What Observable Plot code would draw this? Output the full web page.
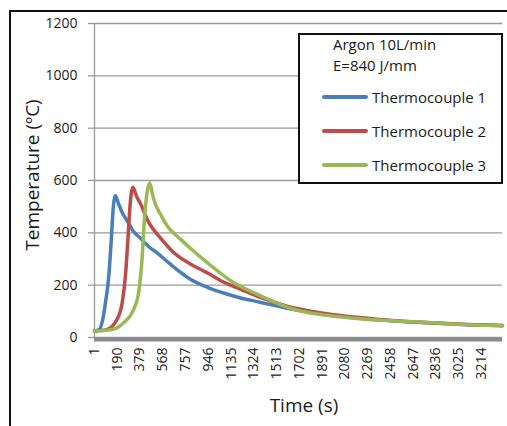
<!DOCTYPE html>
<html>
<head>
<meta charset="utf-8">
<script src="https://cdn.jsdelivr.net/npm/d3@7"></script>
<script src="https://cdn.jsdelivr.net/npm/@observablehq/plot@0.6"></script>
<style>
  html, body { margin: 0; padding: 0; background: #fff; }
  #wrap { position: relative; width: 507px; height: 426px; overflow: hidden; font-family: "Open Sans", sans-serif; color: #1a1a1a; }
  #frame { position: absolute; left: 9px; top: 10px; width: 600px; height: 500px; border-left: 2px solid #111; border-top: 2px solid #111; }
  #chart { position: absolute; left: 0; top: 0; }
  #legend { position: absolute; left: 298px; top: 33px; width: 205px; height: 151px; box-sizing: border-box; border: 2px solid #111; background: #fff; }
  .lg-title { position: absolute; left: 33px; font-size: 15px; line-height: 1; white-space: nowrap; }
  .lg-row { position: absolute; left: 22px; height: 20px; display: flex; align-items: center; white-space: nowrap; font-size: 15px; }
  .lg-swatch { width: 46px; height: 4px; border-radius: 2px; margin-right: 4px; }
  .ytitle { position: absolute; left: 32px; top: 175px; transform: translate(-50%, -50%) rotate(-90deg); font-size: 19px; white-space: nowrap; }
  .xtitle { position: absolute; left: 304px; top: 405px; transform: translate(-50%, -50%); font-size: 19px; white-space: nowrap; }
</style>
</head>
<body>
<div id="wrap">
  <div id="frame"></div>
  <div id="chart"></div>
  <div id="legend"></div>
  <div class="ytitle" id="ytitle"></div>
  <div class="xtitle" id="xtitle"></div>
</div>
<script>
// ---- data ----
const seriesNames = ["Thermocouple 1", "Thermocouple 2", "Thermocouple 3"];
const seriesColors = ["#4a7ebb", "#be4b48", "#98b954"];

const times1 = [1, 40, 70, 92, 120, 139, 156, 175, 200, 231, 280, 327, 382, 450, 521, 631, 797, 950, 1073, 1200, 1377, 1600, 1900, 2200, 2500, 2800, 3100, 3390];
const temps1 = [25, 30, 70, 133, 236, 363, 491, 542, 512, 478, 440, 404, 380, 348, 323, 280, 223, 190, 170, 153, 135, 112, 90, 74, 63, 55, 49, 45];

const times2 = [1, 100, 189, 231, 258, 277, 294, 319, 350, 382, 451, 550, 659, 800, 935, 1073, 1212, 1377, 1600, 1900, 2200, 2500, 2800, 3100, 3390];
const temps2 = [25, 30, 70, 133, 236, 363, 491, 574, 540, 512, 440, 380, 325, 280, 248, 212, 185, 153, 120, 93, 76, 64, 56, 50, 46];

const times3 = [1, 100, 180, 244, 327, 368, 396, 416, 438, 460, 482, 507, 550, 604, 714, 800, 935, 1156, 1377, 1654, 2013, 2289, 2600, 2842, 3118, 3390];
const temps3 = [25, 28, 35, 57, 108, 172, 300, 453, 555, 590, 548, 510, 470, 427, 376, 340, 287, 210, 160, 108, 80, 69, 61, 55, 49, 46];

const xTickLabels = [1, 190, 379, 568, 757, 946, 1135, 1324, 1513, 1702, 1891, 2080, 2269, 2458, 2647, 2836, 3025, 3214];
const yTickLabels = [0, 200, 400, 600, 800, 1000, 1200];

const legendTitle = ["Argon 10L/min", "E=840 J/mm"];
const xTitle = "Time (s)";
const yTitle = "Temperature (ºC)";

// ---- build table ----
const allTimes = [times1, times2, times3];
const allTemps = [temps1, temps2, temps3];
const data = seriesNames.flatMap((name, i) =>
  allTimes[i].map((t, j) => ({series: name, time: t, temp: allTemps[i][j]}))
);

const gridColor = "#9a9a9a";

const chart = Plot.plot({
  width: 507,
  height: 426,
  marginLeft: 94,
  marginRight: 5,
  marginTop: 23,
  marginBottom: 89,
  style: {fontFamily: "Open Sans", fontSize: "14px", color: "#1a1a1a", background: "transparent", overflow: "visible"},
  x: {domain: [1, 3390], label: null},
  y: {domain: [0, 1200], label: null},
  color: {domain: seriesNames, range: seriesColors},
  marks: [
    Plot.gridY(yTickLabels, {stroke: gridColor, strokeOpacity: 1, strokeWidth: 1.3}),
    Plot.axisY(yTickLabels, {tickSize: 6, tickPadding: 11, stroke: gridColor, strokeWidth: 1.3, tickFormat: d => String(d), label: null}),
    Plot.ruleX([1], {stroke: gridColor, strokeWidth: 1.3}),
    Plot.line(data, {x: "time", y: "temp", z: "series", stroke: "series", strokeWidth: 3.5, curve: "monotone-x", strokeLinejoin: "round", strokeLinecap: "round"}),
    Plot.ruleY([0], {stroke: "#8a8a8a", strokeWidth: 4, dy: 2}),
    Plot.axisX(xTickLabels, {tickRotate: -90, tickSize: 0, tickPadding: 10, tickFormat: d => String(d), label: null})
  ]
});
document.getElementById("chart").appendChild(chart);

// ---- titles ----
document.getElementById("xtitle").textContent = xTitle;
document.getElementById("ytitle").textContent = yTitle;

// ---- legend ----
const legend = document.getElementById("legend");
legendTitle.forEach((txt, i) => {
  const d = document.createElement("div");
  d.className = "lg-title";
  d.style.top = (2 + i * 21) + "px";
  d.textContent = txt;
  legend.appendChild(d);
});
seriesNames.forEach((name, i) => {
  const row = document.createElement("div");
  row.className = "lg-row";
  row.style.top = (52 + i * 34) + "px";
  const sw = document.createElement("div");
  sw.className = "lg-swatch";
  sw.style.background = seriesColors[i];
  const lb = document.createElement("span");
  lb.textContent = name;
  row.appendChild(sw);
  row.appendChild(lb);
  legend.appendChild(row);
});
</script>
</body>
</html>
